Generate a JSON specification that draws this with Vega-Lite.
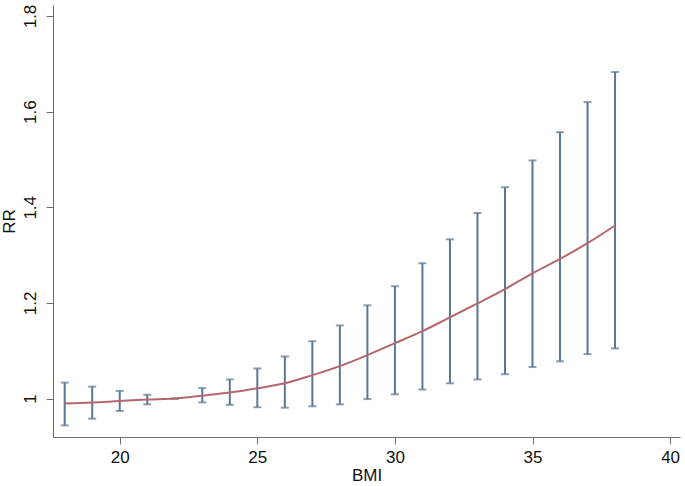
{
  "$schema": "https://vega.github.io/schema/vega-lite/v6.json",
  "autosize": {"type": "none"},
  "width": 627,
  "height": 432,
  "padding": {"left": 53, "top": 5, "right": 5, "bottom": 49},
  "background": "white",
  "config": {
    "view": {"stroke": null},
    "font": "Liberation Sans",
    "axis": {
      "grid": false,
      "domainColor": "#6e6e6e",
      "tickColor": "#6e6e6e",
      "labelColor": "#111111",
      "titleColor": "#111111",
      "labelFont": "Liberation Sans",
      "titleFont": "Liberation Sans",
      "labelFontSize": 17,
      "titleFontSize": 17,
      "titleFontWeight": "normal",
      "tickSize": 7,
      "domainWidth": 1,
      "tickWidth": 1
    }
  },
  "data": {
    "values": [
      {"bmi": 18, "rr": 0.9895, "lo": 0.944, "hi": 1.0335},
      {"bmi": 19, "rr": 0.9916, "lo": 0.958, "hi": 1.025},
      {"bmi": 20, "rr": 0.995, "lo": 0.974, "hi": 1.016},
      {"bmi": 21, "rr": 0.998, "lo": 0.988, "hi": 1.008},
      {"bmi": 22, "rr": 1.0, "lo": 1.0, "hi": 1.0},
      {"bmi": 23, "rr": 1.006, "lo": 0.992, "hi": 1.022},
      {"bmi": 24, "rr": 1.0126, "lo": 0.987, "hi": 1.04},
      {"bmi": 25, "rr": 1.0216, "lo": 0.982, "hi": 1.063},
      {"bmi": 26, "rr": 1.032, "lo": 0.981, "hi": 1.088},
      {"bmi": 27, "rr": 1.049, "lo": 0.984, "hi": 1.12},
      {"bmi": 28, "rr": 1.068, "lo": 0.988, "hi": 1.153},
      {"bmi": 29, "rr": 1.091, "lo": 0.999, "hi": 1.195},
      {"bmi": 30, "rr": 1.116, "lo": 1.009, "hi": 1.235},
      {"bmi": 31, "rr": 1.141, "lo": 1.019, "hi": 1.283},
      {"bmi": 32, "rr": 1.17, "lo": 1.032, "hi": 1.333},
      {"bmi": 33, "rr": 1.199, "lo": 1.04, "hi": 1.388},
      {"bmi": 34, "rr": 1.229, "lo": 1.051, "hi": 1.442},
      {"bmi": 35, "rr": 1.262, "lo": 1.066, "hi": 1.498},
      {"bmi": 36, "rr": 1.292, "lo": 1.078, "hi": 1.557},
      {"bmi": 37, "rr": 1.325, "lo": 1.093, "hi": 1.62},
      {"bmi": 38, "rr": 1.362, "lo": 1.105, "hi": 1.683}
    ]
  },
  "encoding": {
    "x": {
      "field": "bmi",
      "type": "quantitative",
      "scale": {"domain": [17.575, 40.36], "nice": false, "zero": false},
      "axis": {"values": [20, 25, 30, 35, 40], "title": "BMI", "labelPadding": 5, "titlePadding": 2}
    }
  },
  "layer": [
    {
      "mark": {"type": "rule", "color": "#5a7896", "strokeWidth": 2},
      "encoding": {
        "y": {
          "field": "lo",
          "type": "quantitative",
          "scale": {"domain": [0.9197, 1.823], "nice": false, "zero": false},
          "axis": {
            "values": [1, 1.2, 1.4, 1.6, 1.8],
            "labelExpr": "datum.value == 1 ? '1' : format(datum.value, '.1f')",
            "title": "RR",
            "labelAngle": -90,
            "labelAlign": "center",
            "labelBaseline": "bottom",
            "labelPadding": 7,
            "titlePadding": 3
          }
        },
        "y2": {"field": "hi"}
      }
    },
    {
      "mark": {"type": "tick", "color": "#5a7896", "orient": "horizontal", "size": 8, "thickness": 2},
      "encoding": {"y": {"field": "lo", "type": "quantitative"}}
    },
    {
      "mark": {"type": "tick", "color": "#5a7896", "orient": "horizontal", "size": 8, "thickness": 2},
      "encoding": {"y": {"field": "hi", "type": "quantitative"}}
    },
    {
      "mark": {"type": "line", "color": "#b4686e", "strokeWidth": 2, "interpolate": "monotone"},
      "encoding": {"y": {"field": "rr", "type": "quantitative"}}
    }
  ]
}
